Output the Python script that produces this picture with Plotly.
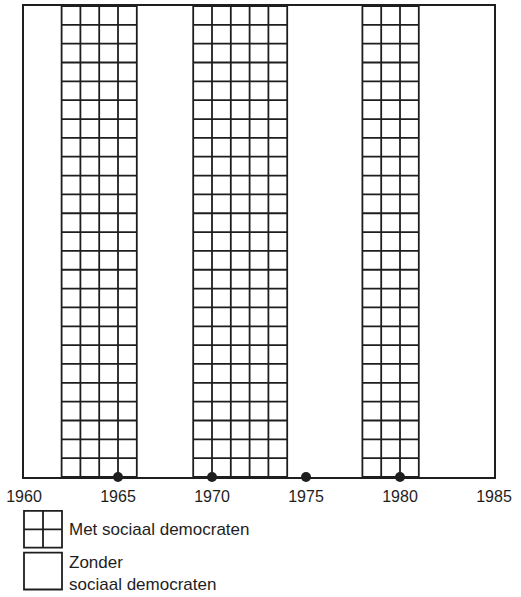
import plotly.graph_objects as go

# Periods with social democrats in government (start year, end year)
period_start = [1962, 1969, 1978]
period_end = [1966, 1974, 1981]
n_rows = 25  # grid rows (height of chart in grid units)

dot_years = [1965, 1970, 1975, 1980]
tick_years = [1960, 1965, 1970, 1975, 1980, 1985]
x_min, x_max = 1960, 1985

legend_with = "Met sociaal democraten"
legend_without = "Zonder<br>sociaal democraten"

INK = "#1e1e1e"
FONT = "Liberation Sans, Arial, sans-serif"

# Build grid line segments from the period arrays
gx, gy = [], []
for s, e in zip(period_start, period_end):
    for yr in range(s, e + 1):
        gx += [yr, yr, None]
        gy += [0, n_rows, None]
    for r in range(0, n_rows + 1):
        gx += [s, e, None]
        gy += [r, r, None]

fig = go.Figure()
fig.add_trace(go.Scatter(
    x=gx, y=gy, mode="lines",
    line=dict(color=INK, width=1.8),
    hoverinfo="skip", showlegend=False,
))
fig.add_trace(go.Scatter(
    x=dot_years, y=[0] * len(dot_years), mode="markers",
    marker=dict(color=INK, size=10),
    cliponaxis=False, showlegend=False,
))

# Legend drawn manually (paper coordinates)
def px_x(p):
    return (p - 24) / 470.0

def px_y(p):
    return (477 - p) / 473.0

shapes = []
# box with cross
shapes.append(dict(type="rect", xref="paper", yref="paper",
                   x0=px_x(24), x1=px_x(62), y0=px_y(548), y1=px_y(511),
                   line=dict(color=INK, width=1.8)))
shapes.append(dict(type="line", xref="paper", yref="paper",
                   x0=px_x(43), x1=px_x(43), y0=px_y(548), y1=px_y(511),
                   line=dict(color=INK, width=1.8)))
shapes.append(dict(type="line", xref="paper", yref="paper",
                   x0=px_x(24), x1=px_x(62), y0=px_y(529.5), y1=px_y(529.5),
                   line=dict(color=INK, width=1.8)))
# empty box
shapes.append(dict(type="rect", xref="paper", yref="paper",
                   x0=px_x(24), x1=px_x(62), y0=px_y(590), y1=px_y(553),
                   line=dict(color=INK, width=1.8)))

annotations = [
    dict(text=legend_with, xref="paper", yref="paper",
         x=px_x(67), y=px_y(530), xanchor="left", yanchor="middle",
         showarrow=False, align="left",
         font=dict(family=FONT, size=17, color=INK)),
    dict(text=legend_without, xref="paper", yref="paper",
         x=px_x(67), y=px_y(574), xanchor="left", yanchor="middle",
         showarrow=False, align="left",
         font=dict(family=FONT, size=17, color=INK)),
]

fig.update_layout(
    width=521, height=597,
    margin=dict(l=24, r=27, t=4, b=120),
    paper_bgcolor="white", plot_bgcolor="white",
    shapes=shapes, annotations=annotations,
    showlegend=False,
    xaxis=dict(range=[x_min, x_max], tickvals=tick_years,
               ticktext=[str(t) for t in tick_years],
               showline=True, mirror=True, linecolor=INK, linewidth=2,
               showgrid=False, zeroline=False,
               ticks="outside", ticklen=4, tickcolor="rgba(0,0,0,0)",
               tickfont=dict(family=FONT, size=16, color=INK)),
    yaxis=dict(range=[0, n_rows], showticklabels=False,
               showline=True, mirror=True, linecolor=INK, linewidth=2,
               showgrid=False, zeroline=False, ticks=""),
)

fig.write_html(
    "out.html",
    config={"displayModeBar": False},
    post_script="document.body.style.margin='0';document.body.style.overflow='hidden';",
)
